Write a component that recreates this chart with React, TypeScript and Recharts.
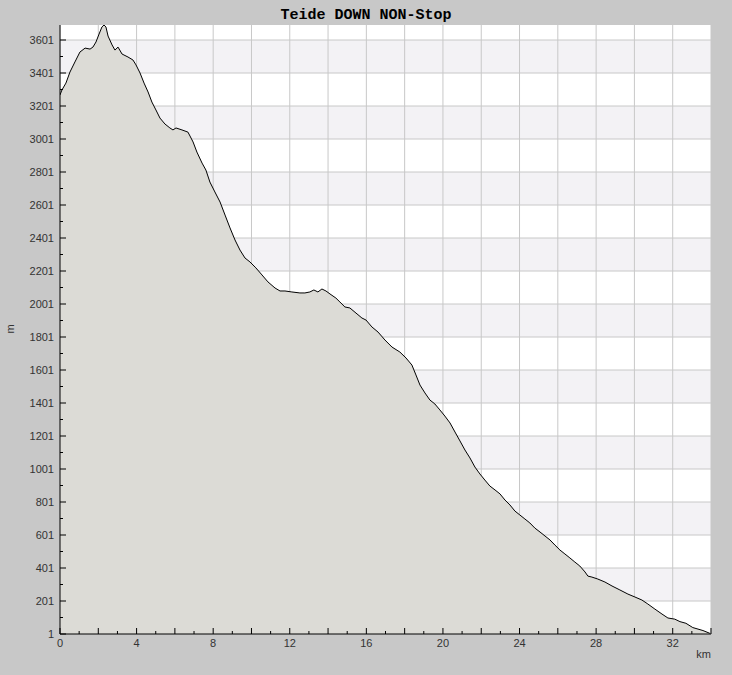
import React from 'react';
import { AreaChart, Area, XAxis, YAxis, CartesianGrid } from 'recharts';

// Distance along the route (km)
const distanceKm = [
  0, 0.1, 0.31, 0.52, 0.78, 1.04, 1.31, 1.57, 1.72, 1.88, 2.04, 2.19, 2.3, 2.4, 2.51, 2.72, 2.87, 3.03, 3.24, 3.55,
  3.81, 3.97, 4.18, 4.39, 4.6, 4.8, 5.01, 5.22, 5.48, 5.74, 5.9, 6.06, 6.37, 6.68, 6.79, 6.95, 7.15, 7.42, 7.62, 7.83,
  8.09, 8.36, 8.62, 8.88, 9.14, 9.4, 9.66, 9.92, 10.23, 10.55, 10.86, 11.23, 11.49, 11.75, 12.11, 12.53, 12.79, 13.05, 13.26, 13.47,
  13.68, 13.89, 14.1, 14.41, 14.62, 14.88, 15.14, 15.46, 15.77, 15.98, 16.29, 16.61, 16.97, 17.34, 17.75, 18.07, 18.38, 18.59, 18.8, 19.06,
  19.32, 19.58, 19.84, 20.1, 20.37, 20.63, 20.89, 21.15, 21.41, 21.67, 21.93, 22.19, 22.45, 22.72, 22.98, 23.24, 23.5, 23.76, 24.02, 24.28,
  24.54, 24.8, 25.07, 25.33, 25.59, 25.85, 26.11, 26.37, 26.63, 26.89, 27.15, 27.42, 27.57, 27.78, 28.09, 28.46, 28.83, 29.24, 29.66, 30.03,
  30.39, 30.7, 31.07, 31.44, 31.75, 32.11, 32.38, 32.69, 33.05, 33.58, 33.94,
];

// Elevation (m)
const elevationM = [
  3268, 3298, 3340, 3407, 3468, 3528, 3552, 3546, 3558, 3589, 3637, 3680, 3692, 3680, 3625, 3571, 3540, 3558, 3516, 3498,
  3480, 3450, 3401, 3340, 3286, 3225, 3177, 3128, 3092, 3068, 3056, 3068, 3056, 3043, 3019, 2983, 2922, 2855, 2813, 2740,
  2680, 2619, 2540, 2462, 2389, 2328, 2280, 2256, 2220, 2177, 2135, 2098, 2080, 2080, 2074, 2068, 2068, 2074, 2086, 2074,
  2092, 2080, 2062, 2037, 2013, 1983, 1977, 1946, 1916, 1904, 1862, 1831, 1783, 1740, 1710, 1674, 1631, 1571, 1510, 1462,
  1419, 1395, 1359, 1322, 1280, 1225, 1171, 1116, 1068, 1013, 971, 934, 898, 874, 850, 813, 783, 746, 722, 698,
  674, 643, 619, 595, 571, 540, 510, 486, 462, 437, 413, 377, 352, 346, 334, 316, 292, 268, 243, 225,
  207, 183, 152, 122, 98, 91, 76, 66, 40, 22, 5,
];

const xTicks = [0, 1, 2, 3, 4, 5, 6, 7, 8, 9, 10, 11, 12, 13, 14, 15, 16, 17, 18, 19, 20, 21, 22, 23, 24, 25, 26, 27, 28, 29, 30, 31, 32, 33, 34];
const xGrid = [0, 2, 4, 6, 8, 10, 12, 14, 16, 18, 20, 22, 24, 26, 28, 30, 32, 34];
const yTicks = [
  1, 101, 201, 301, 401, 501, 601, 701, 801, 901, 1001, 1101, 1201, 1301, 1401, 1501, 1601, 1701, 1801,
  1901, 2001, 2101, 2201, 2301, 2401, 2501, 2601, 2701, 2801, 2901, 3001, 3101, 3201, 3301, 3401, 3501, 3601,
];
const yGrid = [1, 201, 401, 601, 801, 1001, 1201, 1401, 1601, 1801, 2001, 2201, 2401, 2601, 2801, 3001, 3201, 3401, 3601];

const data = distanceKm.map((km, i) => ({ km, m: elevationM[i] }));

const FONT = '"Liberation Sans", Arial, sans-serif';

const XTick = (props: any) => {
  const { x, y, payload } = props;
  const v = payload.value as number;
  const major = v % 2 === 0;
  return (
    <g>
      <line x1={x} x2={x} y1={y} y2={y - (major ? 6 : 3)} stroke="#000" strokeWidth={1} />
      {v % 4 === 0 && (
        <text x={x} y={y + 13} textAnchor="middle" fill="#333" fontSize={11} fontFamily={FONT}>
          {v}
        </text>
      )}
    </g>
  );
};

const YTick = (props: any) => {
  const { x, y, payload } = props;
  const v = payload.value as number;
  const major = (v - 1) % 200 === 0;
  return (
    <g>
      <line x1={x} x2={x + (major ? 6 : 3)} y1={y} y2={y} stroke="#000" strokeWidth={1} />
      {major && (
        <text x={x - 6} y={y + 4} textAnchor="end" fill="#333" fontSize={11} fontFamily={FONT}>
          {v}
        </text>
      )}
    </g>
  );
};

export default function App() {
  return (
    <div style={{ position: 'absolute', left: 0, top: 0, width: 732, height: 675, background: '#c8c8c8' }}>
      <div
        style={{
          position: 'absolute',
          left: 0,
          top: 8,
          width: 732,
          textAlign: 'center',
          fontFamily: '"Liberation Mono", "DejaVu Sans Mono", monospace',
          fontSize: 15,
          fontWeight: 'bold',
          lineHeight: '15px',
          color: '#000',
        }}
      >
        Teide DOWN NON-Stop
      </div>
      <AreaChart width={732} height={675} data={data} margin={{ top: 25, right: 21, left: 0, bottom: 11 }}>
        <CartesianGrid
          horizontalValues={yGrid}
          verticalValues={xGrid}
          stroke="#c8c8c8"
          fill="#ffffff"
          horizontalFill={['none', '#f3f2f5']}
        />
        <Area
          type="linear"
          dataKey="m"
          stroke="#000"
          strokeWidth={1}
          fill="#dcdbd6"
          fillOpacity={1}
          dot={false}
          activeDot={false}
          isAnimationActive={false}
        />
        <XAxis
          dataKey="km"
          type="number"
          domain={[0, 34]}
          ticks={xTicks}
          interval={0}
          tickSize={0}
          tickMargin={0}
          tickLine={false}
          axisLine={{ stroke: '#000' }}
          tick={<XTick />}
          height={30}
          allowDataOverflow
          label={(props: any) => {
            const vb = props.viewBox || { x: 60, y: 634, width: 651 };
            return (
              <text x={vb.x + vb.width} y={vb.y + 24} textAnchor="end" fill="#333" fontSize={11} fontFamily={FONT}>
                km
              </text>
            );
          }}
        />
        <YAxis
          type="number"
          domain={[1, 3692]}
          ticks={yTicks}
          interval={0}
          tickSize={0}
          tickMargin={0}
          tickLine={false}
          axisLine={{ stroke: '#000' }}
          tick={<YTick />}
          width={60}
          allowDataOverflow
          label={() => (
            <text
              x={13.5}
              y={329}
              transform="rotate(-90, 13.5, 329)"
              textAnchor="middle"
              fill="#333"
              fontSize={11}
              fontFamily={FONT}
            >
              m
            </text>
          )}
        />
      </AreaChart>
    </div>
  );
}
